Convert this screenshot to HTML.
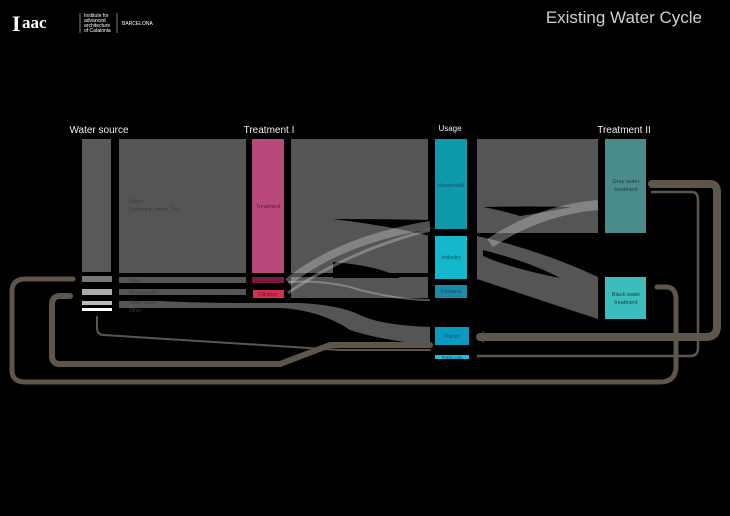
<!DOCTYPE html>
<html><head><meta charset="utf-8"><style>
html,body{margin:0;padding:0;background:#000;}
svg{display:block}
</style></head><body>
<svg width="730" height="516" viewBox="0 0 730 516" xmlns="http://www.w3.org/2000/svg" style="font-family:'Liberation Sans',sans-serif">
<rect width="730" height="516" fill="#000"/>
<!-- logo -->
<text x="12" y="31" style="font-family:'Liberation Serif',serif;font-weight:bold;font-size:22px" fill="#fff">I</text>
<text x="22" y="28" style="font-family:'Liberation Serif',serif;font-weight:bold;font-size:17px" fill="#fff">aac</text>
<line x1="80" y1="13" x2="80" y2="33" stroke="#fff" stroke-width="0.5"/>
<text x="84" y="17" font-size="5" fill="#fff">Institute for</text>
<text x="84" y="22" font-size="5" fill="#fff">advanced</text>
<text x="84" y="27" font-size="5" fill="#fff">architecture</text>
<text x="84" y="32" font-size="5" fill="#fff">of Catalonia</text>
<line x1="117" y1="13" x2="117" y2="33" stroke="#fff" stroke-width="0.5"/>
<text x="122" y="25" font-size="5" fill="#fff">BARCELONA</text>
<text x="702" y="23" text-anchor="end" font-size="17" fill="#cfcfcf">Existing Water Cycle</text>
<!-- headers -->
<text x="99" y="133" text-anchor="middle" font-size="10" fill="#eee">Water source</text>
<text x="269" y="133" text-anchor="middle" font-size="10" fill="#eee">Treatment I</text>
<text x="450" y="131" text-anchor="middle" font-size="8" fill="#eee">Usage</text>
<text x="624" y="133" text-anchor="middle" font-size="10" fill="#eee">Treatment II</text>

<!-- brown loops -->
<g fill="none" stroke="#5e554b" stroke-linecap="round">
<path d="M73 279 H25 Q12 279 12 292 V370 Q12 382 25 382 H660 Q676 382 676 366 V300 Q676 287 666 287 H657" stroke-width="5"/>
<path d="M70 296 H60 Q52 296 52 305 V356 Q52 364 60 364 H280 L330 345 H430" stroke-width="6"/>
<path d="M97 317 V328 Q97 335 104 335 L340 350 H430" stroke-width="2"/>
<path d="M652 184 H710 Q717 184 717 192 V326 Q717 337 706 337 H480" stroke-width="8"/>
<path d="M652 192 H692 Q698 192 698 200 V348 Q698 356 690 356 H478" stroke-width="2.5"/>
</g>
<path d="M478 337 L484 331 V343 Z" fill="#5e554b"/>

<!-- gray flows -->
<g fill="#555">
<rect x="82" y="139" width="29" height="133" fill="#595959"/>
<rect x="119" y="139" width="127" height="134"/>
<rect x="119" y="277" width="127" height="6"/>
<rect x="119" y="289" width="127" height="6"/>
<path d="M119 301 H160 Q200 303 250 303 H300 Q340 305 360 315 Q380 325 430 327 V345 Q380 340 350 330 Q320 310 280 308 H119 Z"/>
<rect x="291" y="139" width="137" height="134"/>
<rect x="291" y="277" width="137" height="21"/>
<rect x="477" y="139" width="121" height="68"/>
<path d="M477 207 Q540 207 598 207 V233 Q540 233 477 233 Z" fill="#555"/>
<path d="M477 236 Q540 250 598 277 V319 Q540 300 477 279 Z"/>
</g>
<g fill="#000">
<path d="M333 219 Q390 219 430 220 V236 Q390 226 333 219Z"/>
<path d="M333 262 Q380 266 400 278 H333Z" fill="#000"/>
<rect x="291" y="273" width="137" height="4"/>
<path d="M483 207 Q530 206 572 207 Q540 213 520 216 Q500 210 483 207Z"/>
<path d="M483 250 Q530 262 560 278 Q510 268 483 256Z"/>
</g>
<g fill="none" stroke="rgba(200,200,200,0.4)">
<path d="M288 282 Q340 240 430 225" stroke-width="8"/>
<path d="M288 293 Q350 250 430 230" stroke-width="3"/>
<path d="M288 282 Q330 280 360 290 Q400 300 430 300" stroke-width="2"/>
<path d="M490 243 Q540 210 598 205" stroke-width="10"/>
</g>

<!-- source small bars -->
<rect x="82" y="276" width="30" height="6" fill="#777"/>
<rect x="82" y="289" width="30" height="6" fill="#aaa"/>
<rect x="82" y="301" width="30" height="4" fill="#bbb"/>
<rect x="82" y="308" width="30" height="3" fill="#fff"/>
<g font-size="5" fill="#3a3a4a">
<text x="129" y="203">Rivers</text>
<text x="129" y="211">(Llobregat, Besos, Ter)</text>
<text x="129" y="282">Sea</text>
<text x="129" y="294">Groundwater</text>
<text x="129" y="304">Storm water</text>
<text x="129" y="312">Other</text>
</g>
<!-- treatment I -->
<rect x="252" y="139" width="32" height="134" fill="#b8497a"/>
<text x="268" y="208" text-anchor="middle" font-size="5.5" fill="#5a1a3a">Treatment</text>
<rect x="252" y="277" width="32" height="6" fill="#7a1a40"/>
<rect x="253" y="290" width="31" height="8" fill="#d0304a"/>
<text x="268" y="296" text-anchor="middle" font-size="5" fill="#7a1020">Filtration</text>
<!-- usage -->
<rect x="435" y="139" width="32" height="90" fill="#0e9aaa"/>
<rect x="435" y="236" width="32" height="43" fill="#14b8cc"/>
<rect x="435" y="285" width="32" height="13" fill="#1a8aa6"/>
<rect x="435" y="327" width="34" height="18" fill="#0a9ac0"/>
<rect x="435" y="355" width="34" height="4" fill="#18c0e0"/>
<g font-size="5.5" fill="#1a4a6a" text-anchor="middle">
<text x="451" y="187">Household</text>
<text x="451" y="259">Industry</text>
<text x="451" y="293">Fontana</text>
<text x="452" y="338">Parks</text>
<text x="452" y="359" font-size="4.5">Public use</text>
</g>
<!-- treatment II -->
<rect x="605" y="139" width="41" height="94" fill="#4a8c8c"/>
<rect x="605" y="277" width="41" height="42" fill="#3cbcbc"/>
<g font-size="5.5" fill="#1a3a4a" text-anchor="middle">
<text x="626" y="183">Gray water</text>
<text x="626" y="191">treatment</text>
<text x="626" y="296">Black water</text>
<text x="626" y="304">treatment</text>
</g>
</svg>
</body></html>
